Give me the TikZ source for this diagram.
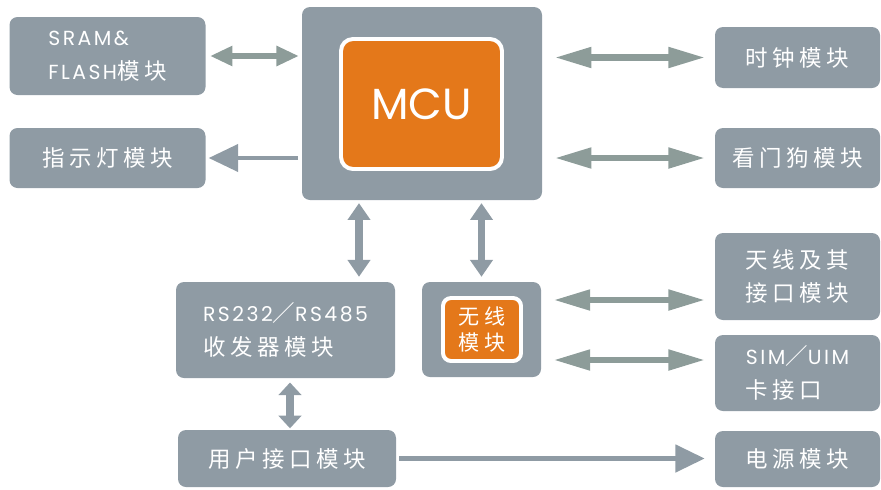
\documentclass[tikz,border=0pt]{standalone}
\usepackage{fontspec}
\usetikzlibrary{arrows.meta}
\newfontfamily\cnfont[LetterSpace=20]{Noto Sans CJK SC}
\newfontfamily\enfont[LetterSpace=12]{Poppins}
\newcommand{\lat}[1]{{\enfont\fontsize{14.5}{24}\selectfont #1}}
\definecolor{boxgray}{HTML}{8F9BA4}
\definecolor{arrgreen}{HTML}{8D9C99}
\definecolor{mcuorange}{HTML}{E4781A}

\begin{document}
\begin{tikzpicture}[x=0.25mm, y=-0.25mm,
    blk/.style={fill=boxgray, rounded corners=2mm, text=white, inner sep=0pt,
        font=\cnfont\fontsize{16}{24}\selectfont},
    core/.style={blk, fill=mcuorange, draw=white, line width=2.8pt},
    sz/.style 2 args={minimum width=#1*0.25mm, minimum height=#2*0.25mm},
    dblh/.style={arrgreen, line width=4.3pt, {Triangle[length=26pt,width=14pt]}-{Triangle[length=26pt,width=14pt]}},
    dblv/.style={boxgray, line width=5pt, {Triangle[length=12pt,width=15.6pt]}-{Triangle[length=12pt,width=15.6pt]}},
    sgl/.style={boxgray, line width=4pt, -{Triangle[length=21pt,width=19pt]}}]

    \useasboundingbox (0,0) rectangle (881,489);

    % left column
    \draw(107.5,56) node[blk, sz={196}{78}, align=left] (sram) {\lat{SRAM\&}\\\lat{FLASH}模块};
    \draw(107.5,158) node[blk, sz={196}{60}] (led) {指示灯模块};

    % MCU
    \draw(422,103.5) node[blk, sz={240}{193}] (mcu) {};
    \draw(421.5,104) node[core, rounded corners=3mm, sz={161}{130},
        font=\fontspec{Poppins}\fontsize{31}{31}\selectfont, text=white] (core) {MCU};

    % right column
    \draw(797.5,57.5) node[blk, sz={165}{61}] (clk) {时钟模块};
    \draw(797.5,158) node[blk, sz={165}{60}] (wdog) {看门狗模块};
    \draw(797.5,276.5) node[blk, sz={165}{87}, align=left] (ant) {天线及其\\接口模块};
    \draw(797.5,373) node[blk, sz={165}{76}, align=left] (sim) {\lat{SIM}／\lat{UIM}\\卡接口};
    \draw(797.5,459) node[blk, sz={165}{56}] (pwr) {电源模块};

    % bottom row
    \draw(285.5,330) node[blk, sz={219}{96}, align=left] (rs) {\lat{RS232}／\lat{RS485}\\收发器模块};
    \draw(481.5,329.5) node[blk, sz={119}{95}] (wl) {};
    \draw(482,329.5) node[core, sz={78}{63}, align=center,
        font=\cnfont\fontsize{15}{19}\selectfont] (wlcore) {无线\\模块};
    \draw(287,458.5) node[blk, sz={218}{57}] (user) {用户接口模块};

    \coordinate (v1) at (359,0);
    \coordinate (v2) at (290,0);
    \coordinate (w1) at (541,300);
    \coordinate (w2) at (541,360);

    % connections
    \draw[dblh, shorten <=3pt, shorten >=2pt,
        {Triangle[length=16pt,width=13.5pt]}-{Triangle[length=16pt,width=13.5pt]}]
        (sram.east) -- (sram.east -| mcu.west);
    \draw[sgl, shorten <=2.5pt, shorten >=2pt, line width=3.5pt] (led.east -| mcu.west) -- (led.east);
    \draw[dblh, shorten <=9pt, shorten >=7pt] (clk.west -| mcu.east) -- (clk.west);
    \draw[dblh, shorten <=9pt, shorten >=7pt] (wdog.west -| mcu.east) -- (wdog.west);
    \draw[dblh, shorten <=9pt, shorten >=7pt] (w1) -- (w1 -| ant.west);
    \draw[dblh, shorten <=9pt, shorten >=7pt] (w2) -- (w2 -| sim.west);
    \draw[dblv, shorten <=2pt, shorten >=3.5pt] (mcu.south -| v1) -- (rs.north -| v1);
    \draw[dblv, shorten <=2pt, shorten >=3.5pt] (mcu.south -| wl.north) -- (wl.north);
    \draw[dblv, shorten <=3pt, shorten >=1pt,
        {Triangle[length=9pt,width=16pt]}-{Triangle[length=9pt,width=16pt]}]
        (rs.south -| v2) -- (user.north -| v2);
    \draw[sgl, shorten <=2pt, shorten >=7pt] (user.east) -- (user.east -| pwr.west);

\end{tikzpicture}
\end{document}
